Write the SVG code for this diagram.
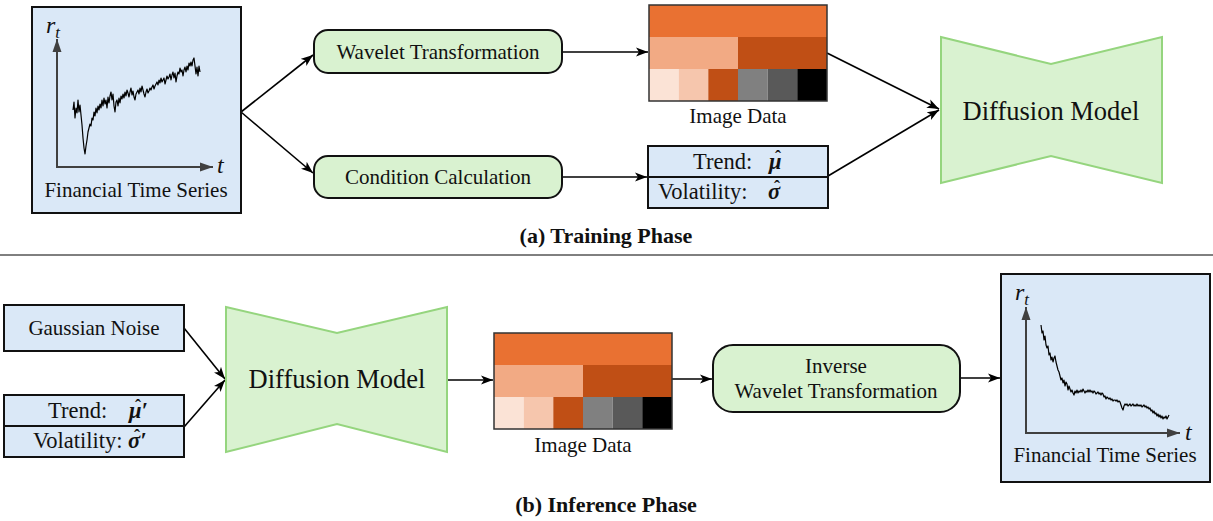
<svg xmlns="http://www.w3.org/2000/svg" width="1213" height="521" viewBox="0 0 1213 521" font-family="'Liberation Serif', Tinos, 'Nimbus Roman', 'Noto Serif', FreeSerif, 'DejaVu Serif', serif">
<defs>
<style>
text{font-family:'Liberation Serif', Tinos, 'Times New Roman', 'Nimbus Roman', 'Noto Serif', FreeSerif, 'DejaVu Serif', serif;}
.t{fill:#111;}
.lbl{font-size:21px;}
.tv{font-size:22.5px;}
.dm{font-size:26.5px;}
.cap{font-size:22px;font-weight:bold;}
.m{font-style:italic;fill:#111;}
.mb{font-style:italic;font-weight:bold;fill:#111;font-size:22.5px;}
.hat{font-weight:bold;fill:#111;font-size:18px;text-anchor:middle;}
.blue{fill:#DAE8F7;stroke:#111;stroke-width:2;}
.green{fill:#D9F2D0;stroke:#111;stroke-width:2;}
.dif{fill:#D9F2D0;stroke:#95D57E;stroke-width:2;}
.conn{stroke:#000;stroke-width:1.6;fill:none;marker-end:url(#arr);}
.axis{stroke:#404040;stroke-width:2;fill:none;marker-end:url(#ax);}
.ser{stroke:#000;stroke-width:1.2;fill:none;stroke-linejoin:round;}
.imgb{fill:none;stroke:#333;stroke-width:1.5;}
</style>
<marker id="arr" markerUnits="userSpaceOnUse" markerWidth="13" markerHeight="10" refX="12" refY="5" orient="auto">
<path d="M0,0.5 L12,5 L0,9.5 L3,5 z" fill="#000"/>
</marker>
<marker id="ax" markerUnits="userSpaceOnUse" markerWidth="14" markerHeight="10" refX="13" refY="5" orient="auto">
<path d="M0,0.5 L13,5 L0,9.5 z" fill="#404040"/>
</marker>
</defs>
<rect width="1213" height="521" fill="#fff"/>

<g id="connectors">
<line class="conn" x1="241" y1="112" x2="313" y2="55"/>
<line class="conn" x1="241" y1="112" x2="313" y2="173"/>
<line class="conn" x1="562" y1="52" x2="648" y2="52"/>
<line class="conn" x1="562" y1="177" x2="647" y2="177"/>
<line class="conn" x1="827" y1="53" x2="939" y2="109"/>
<line class="conn" x1="828" y1="176" x2="939" y2="110"/>
<line class="conn" x1="184" y1="328" x2="225" y2="379"/>
<line class="conn" x1="184" y1="427" x2="225" y2="380"/>
<line class="conn" x1="447" y1="380" x2="493" y2="380"/>
<line class="conn" x1="672" y1="379" x2="712" y2="379"/>
<line class="conn" x1="960" y1="378" x2="1000" y2="378"/>
</g>

<g id="fts-top">
<rect class="blue" x="32" y="7" width="209" height="206"/>
<line class="axis" x1="57" y1="167" x2="57" y2="39"/>
<line class="axis" x1="56" y1="167" x2="213" y2="167"/>
<text class="m" x="46" y="33" font-size="24">r<tspan font-size="17" dy="5">t</tspan></text>
<text class="m" x="217" y="173" font-size="24">t</text>
<polyline class="ser" points="73,110 74,102 75,118 76,108 77,113 78,100 79,112 80,105 81,115 82,125 83,138 84,148 85,154 86,146 87,140 88,132 89,128 90,124 91,126 92,118 93,120 94,112 95,116 96,108 97,113 98,106 99,110 100,104 101,108 102,100 103,106 104,98 105,104 106,100 107,108 108,97 109,103 110,96 111,92 112,100 113,94 114,106 115,112 116,102 117,100 118,106 119,98 120,103 121,96 122,99 123,94 124,98 125,92 126,96 127,90 128,93 129,97 130,92 131,88 132,95 133,91 134,97 135,100 136,94 137,92 138,90 139,94 140,88 141,92 142,86 143,90 144,94 145,97 146,92 147,89 148,93 149,91 150,88 151,90 152,87 153,85 154,89 155,86 156,84 157,82 158,85 159,80 160,83 161,78 162,82 163,80 164,78 165,84 166,80 167,76 168,79 169,77 170,74 171,80 172,75 173,72 174,78 175,73 176,82 177,76 178,72 179,74 180,68 181,72 182,70 183,76 184,70 185,67 186,72 187,66 188,70 189,63 190,66 191,62 192,66 193,60 194,58 195,66 196,74 197,67 198,76 199,66 200,72"/>
<text class="t lbl" x="136" y="197" text-anchor="middle">Financial Time Series</text>
</g>

<g id="wavelet">
<rect class="green" x="314" y="30" width="248" height="43" rx="14"/>
<text class="t lbl" x="438" y="59" text-anchor="middle">Wavelet Transformation</text>
</g>

<g id="condition">
<rect class="green" x="314" y="156" width="248" height="42" rx="14"/>
<text class="t lbl" x="438" y="184" text-anchor="middle">Condition Calculation</text>
</g>

<g id="image-top">
<rect x="649" y="5" width="178" height="32" fill="#E97132"/>
<rect x="649" y="37" width="89" height="32" fill="#F2AA84"/>
<rect x="738" y="37" width="89" height="32" fill="#C04F15"/>
<rect x="649" y="69" width="29.7" height="32" fill="#FBE3D6"/>
<rect x="678.7" y="69" width="29.7" height="32" fill="#F6C6AD"/>
<rect x="708.3" y="69" width="29.7" height="32" fill="#C04F15"/>
<rect x="738" y="69" width="29.7" height="32" fill="#808080"/>
<rect x="767.7" y="69" width="29.7" height="32" fill="#595959"/>
<rect x="797.3" y="69" width="29.7" height="32" fill="#000"/>
<rect class="imgb" x="649" y="5" width="178" height="96"/>
<text class="t lbl" x="738" y="123" text-anchor="middle">Image Data</text>
</g>

<g id="cond-top">
<rect class="blue" x="648" y="146" width="180" height="62"/>
<line x1="648" y1="177" x2="828" y2="177" stroke="#111" stroke-width="2"/>
<text class="t tv" x="693" y="169">Trend:</text>
<text class="mb" x="769" y="169">μ</text>
<text class="hat" x="778" y="163">ˆ</text>
<text class="t tv" x="658" y="199">Volatility:</text>
<text class="mb" x="768" y="199">σ</text>
<text class="hat" x="777" y="193">ˆ</text>
</g>

<g id="diffusion-top">
<polygon class="dif" points="941,37 1051,64 1162,37 1162,183 1051,156 941,183"/>
<text class="t dm" x="1051" y="120" text-anchor="middle">Diffusion Model</text>
</g>

<g id="caption-a">
<text class="t cap" x="606" y="243" text-anchor="middle">(a) Training Phase</text>
</g>

<line x1="0" y1="255" x2="1213" y2="255" stroke="#000" stroke-width="1"/>

<g id="gaussian">
<rect class="blue" x="4" y="305" width="180" height="46"/>
<text class="t lbl" x="94" y="335" text-anchor="middle">Gaussian Noise</text>
</g>

<g id="cond-bottom">
<rect class="blue" x="4" y="395" width="180" height="62"/>
<line x1="4" y1="426" x2="184" y2="426" stroke="#111" stroke-width="2"/>
<text class="t tv" x="48" y="418">Trend:</text>
<text class="mb" x="129" y="418">μ′</text>
<text class="hat" x="138" y="412">ˆ</text>
<text class="t tv" x="33" y="448">Volatility:</text>
<text class="mb" x="128" y="448">σ′</text>
<text class="hat" x="137" y="442">ˆ</text>
</g>

<g id="diffusion-bottom">
<polygon class="dif" points="226,307 337,333 447,307 447,452 337,424 226,452"/>
<text class="t dm" x="337" y="388" text-anchor="middle">Diffusion Model</text>
</g>

<g id="image-bottom">
<rect x="494" y="333" width="178" height="32" fill="#E97132"/>
<rect x="494" y="365" width="89" height="32" fill="#F2AA84"/>
<rect x="583" y="365" width="89" height="32" fill="#C04F15"/>
<rect x="494" y="397" width="29.7" height="32" fill="#FBE3D6"/>
<rect x="523.7" y="397" width="29.7" height="32" fill="#F6C6AD"/>
<rect x="553.3" y="397" width="29.7" height="32" fill="#C04F15"/>
<rect x="583" y="397" width="29.7" height="32" fill="#808080"/>
<rect x="612.7" y="397" width="29.7" height="32" fill="#595959"/>
<rect x="642.3" y="397" width="29.7" height="32" fill="#000"/>
<rect class="imgb" x="494" y="333" width="178" height="96"/>
<text class="t lbl" x="583" y="452" text-anchor="middle">Image Data</text>
</g>

<g id="inverse">
<rect class="green" x="713" y="345" width="247" height="67" rx="20"/>
<text class="t lbl" x="836" y="373" text-anchor="middle">Inverse</text>
<text class="t lbl" x="836" y="398" text-anchor="middle">Wavelet Transformation</text>
</g>

<g id="fts-bottom">
<rect class="blue" x="1001" y="274" width="209" height="208"/>
<line class="axis" x1="1026" y1="433" x2="1026" y2="307"/>
<line class="axis" x1="1025" y1="433" x2="1180" y2="433"/>
<text class="m" x="1015" y="300" font-size="24">r<tspan font-size="17" dy="5">t</tspan></text>
<text class="m" x="1185" y="440" font-size="24">t</text>
<polyline class="ser" points="1041,325 1042,333 1043,331 1044,340 1045,336 1046,345 1047,348 1048,346 1049,355 1050,353 1051,360 1052,357 1053,362 1054,358 1055,356 1056,362 1057,366 1058,370 1059,372 1060,376 1061,380 1062,378 1063,383 1064,380 1065,386 1066,382 1067,384 1068,390 1069,386 1070,389 1071,392 1072,390 1073,393 1074,395 1075,391 1076,393 1077,390 1078,393 1079,391 1080,392 1081,390 1082,392 1083,389 1084,391 1085,393 1086,391 1087,392 1088,390 1089,392 1090,390 1091,392 1092,391 1093,393 1094,391 1095,392 1096,394 1097,393 1098,392 1099,394 1100,393 1101,395 1102,393 1103,394 1104,397 1105,396 1106,399 1107,397 1108,398 1109,399 1110,398 1111,400 1112,399 1113,401 1114,400 1115,400 1116,401 1117,400 1118,402 1119,401 1120,402 1121,405 1122,408 1123,410 1124,406 1125,404 1126,405 1127,404 1128,406 1129,405 1130,404 1131,406 1132,405 1133,404 1134,406 1135,405 1136,406 1137,404 1138,406 1139,405 1140,406 1141,405 1142,407 1143,406 1144,405 1145,407 1146,406 1147,408 1148,407 1149,409 1150,408 1151,411 1152,410 1153,413 1154,411 1155,414 1156,413 1157,416 1158,414 1159,417 1160,415 1161,418 1162,416 1163,419 1164,417 1165,418 1166,416 1167,419 1168,417 1169,415"/>
<text class="t lbl" x="1105" y="462" text-anchor="middle">Financial Time Series</text>
</g>

<g id="caption-b">
<text class="t cap" x="606" y="512" text-anchor="middle">(b) Inference Phase</text>
</g>
</svg>
